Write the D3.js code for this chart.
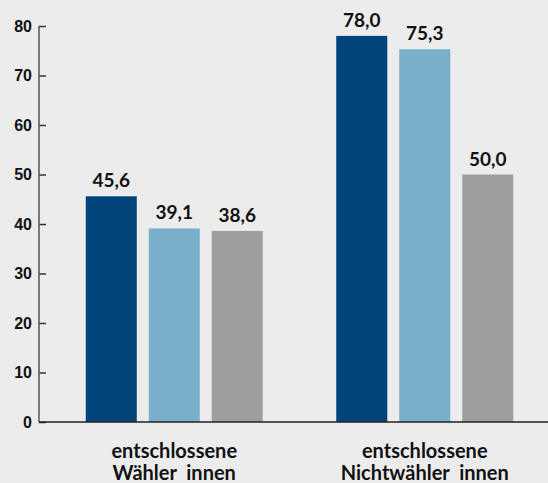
<!DOCTYPE html>
<html lang="de">
<head>
<meta charset="UTF-8" />
<title>Entschlossene Wähler_innen</title>
<script src="https://d3js.org/d3.v7.min.js"></script>
<style>
  body { margin: 0; background: #ececec; overflow: hidden; }
  svg { display: block; font-family: Lato, "Open Sans", sans-serif; }
  .tick text { font-size: 16px; font-weight: 700; fill: #111; }
  .val { font-size: 19px; font-weight: 700; fill: #111; }
  .cat { font-size: 20px; font-weight: 700; fill: #111; }
</style>
</head>
<body>
<div id="chart"></div>
<script>
// Daten
const groups = ["entschlossene Wähler_innen", "entschlossene Nichtwähler_innen"];
const groupLines = [["entschlossene", "Wähler_innen"], ["entschlossene", "Nichtwähler_innen"]];
const series = ["a", "b", "c"];
const values = [
  [45.6, 39.1, 38.6],
  [78.0, 75.3, 50.0]
];
const yTicks = [0, 10, 20, 30, 40, 50, 60, 70, 80];
const colors = ["#00427a", "#79afca", "#9d9e9d"];

const W = 548, H = 483;
const svg = d3.select("#chart").append("svg")
  .attr("width", W).attr("height", H);

// Beschriftung unten ist im Original knapp abgeschnitten
svg.append("clipPath").attr("id", "cut")
  .append("rect").attr("x", 0).attr("y", 0).attr("width", W).attr("height", 481);

const y = d3.scaleLinear().domain([0, 80]).range([422, 26]);
const x0 = d3.scaleBand().domain(groups).range([49, 550]);
const x1 = d3.scaleBand().domain(series).range([0, 177]).paddingInner(0.19);

// Achse links
const yAxis = svg.append("g")
  .attr("transform", "translate(39,0)")
  .call(d3.axisLeft(y).tickValues(yTicks).tickSize(-7).tickPadding(7).tickFormat(d3.format("d")));
yAxis.select(".domain").remove();
yAxis.selectAll(".tick line").attr("stroke", "#333").attr("stroke-width", 1.5);
svg.append("line")
  .attr("x1", 39).attr("x2", 39).attr("y1", y(80)).attr("y2", y(0))
  .attr("stroke", "#555").attr("stroke-width", 1.5);

// Balken
groups.forEach((g, gi) => {
  const off = x0(g) + (x0.bandwidth() - 177) / 2;
  const gr = svg.append("g").attr("transform", `translate(${off},0)`);
  gr.selectAll("rect")
    .data(values[gi])
    .enter()
    .append("rect")
    .attr("x", (d, i) => x1(series[i]))
    .attr("y", d => y(d))
    .attr("width", x1.bandwidth())
    .attr("height", d => y(0) - y(d))
    .attr("fill", (d, i) => colors[i]);

  gr.selectAll("text")
    .data(values[gi])
    .enter()
    .append("text")
    .attr("class", "val")
    .attr("text-anchor", "middle")
    .attr("x", (d, i) => x1(series[i]) + x1.bandwidth() / 2)
    .attr("y", d => y(d) - 9)
    .text(d => d3.format(".1f")(d).replace(".", ","));

  const t = svg.append("text")
    .attr("class", "cat")
    .attr("clip-path", "url(#cut)")
    .attr("text-anchor", "middle")
    .attr("x", x0(g) + x0.bandwidth() / 2)
    .attr("y", 458);
  groupLines[gi].forEach((l, li) => {
    t.append("tspan")
      .attr("x", x0(g) + x0.bandwidth() / 2)
      .attr("dy", li === 0 ? 0 : 22)
      .text(l);
  });
});

// Grundlinie
svg.append("line")
  .attr("x1", 39).attr("x2", W).attr("y1", y(0)).attr("y2", y(0))
  .attr("stroke", "#222").attr("stroke-width", 1.5);
</script>
</body>
</html>
